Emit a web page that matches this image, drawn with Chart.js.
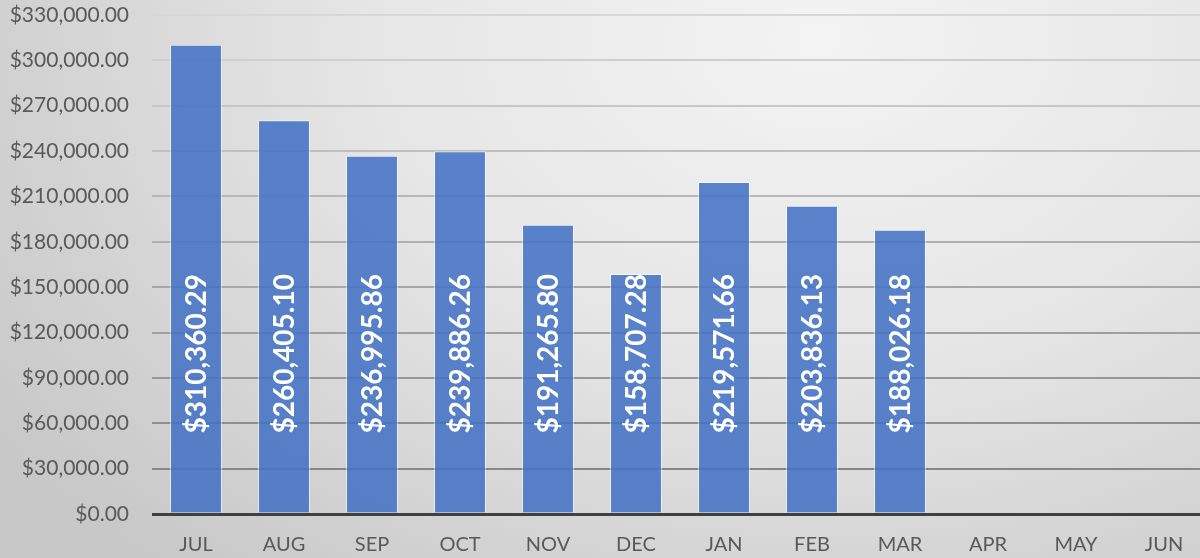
<!DOCTYPE html>
<html>
<head>
<meta charset="utf-8">
<script src="https://cdn.jsdelivr.net/npm/chart.js@4.4.1/dist/chart.umd.min.js"></script>
<style>
    html, body { margin: 0; padding: 0; width: 1200px; height: 558px; overflow: hidden; }
    body { background: radial-gradient(ellipse 1000px 700px at 820px 40px, #f3f3f3 0%, #e6e6e6 45%, #d2d2d2 80%, #c8c8c8 100%); }
    #wrap { width: 1208px; height: 558px; }
</style>
</head>
<body>
<div id="wrap"><canvas id="grafico" width="1208" height="558"></canvas></div>
<script>
const meses = ['JUL', 'AUG', 'SEP', 'OCT', 'NOV', 'DEC', 'JAN', 'FEB', 'MAR', 'APR', 'MAY', 'JUN'];
const valores = [310360.29, 260405.10, 236995.86, 239886.26, 191265.80, 158707.28, 219571.66, 203836.13, 188026.18, null, null, null];
const yMax = 330000;
const yStep = 30000;

function dinheiro(v) {
    return '$' + Number(v).toLocaleString('en-US', { minimumFractionDigits: 2, maximumFractionDigits: 2 });
}

// rotulos brancos dentro das barras, girados
const rotulosBarras = {
    id: 'rotulosBarras',
    afterDatasetsDraw(chart) {
        const ctx = chart.ctx;
        const meta = chart.getDatasetMeta(0);
        const yAncora = chart.scales.y.getPixelForValue(106000);
        ctx.save();
        ctx.fillStyle = '#ffffff';
        ctx.font = 'bold 28px Lato';
        ctx.textAlign = 'center';
        ctx.textBaseline = 'middle';
        meta.data.forEach((bar, i) => {
            if (valores[i] == null) return;
            ctx.save();
            ctx.translate(bar.x, yAncora);
            ctx.rotate(-Math.PI / 2);
            ctx.fillText(dinheiro(valores[i]), 0, 1);
            ctx.restore();
        });
        ctx.restore();
    }
};

const grafico = new Chart(document.getElementById('grafico'), {
    type: 'bar',
    data: {
        labels: meses,
        datasets: [{
            data: valores,
            backgroundColor: 'rgba(68, 114, 196, 0.87)',
            borderColor: 'rgba(255, 255, 255, 0.55)',
            borderWidth: 1,
            barPercentage: 0.59,
            categoryPercentage: 1
        }]
    },
    options: {
        responsive: false,
        animation: false,
        layout: { padding: { top: 15, right: 0, left: 0, bottom: 0 } },
        plugins: { legend: { display: false }, tooltip: { enabled: false } },
        scales: {
            x: {
                grid: { display: false, drawTicks: false },
                border: { display: false },
                ticks: { color: '#595959', font: { family: 'Lato', size: 20 }, padding: 19 },
                afterFit: (s) => { s.height = 44; }
            },
            y: {
                min: 0,
                max: yMax,
                ticks: {
                    stepSize: yStep,
                    color: '#595959',
                    font: { family: 'Lato', size: 21 },
                    padding: 23,
                    callback: (v) => dinheiro(v)
                },
                grid: {
                    drawTicks: false,
                    lineWidth: (c) => c.index === 0 ? 3 : 2,
                    color: (c) => {
                        if (c.index === 0) return '#404040';
                        const g = Math.round(135 + (c.index - 1) * 8);
                        return `rgb(${g}, ${g}, ${g})`;
                    }
                },
                border: { display: false },
                afterFit: (s) => { s.width = 152; s.paddingTop = 0; s.paddingBottom = 0; }
            }
        }
    },
    plugins: [rotulosBarras]
});
</script>
</body>
</html>
